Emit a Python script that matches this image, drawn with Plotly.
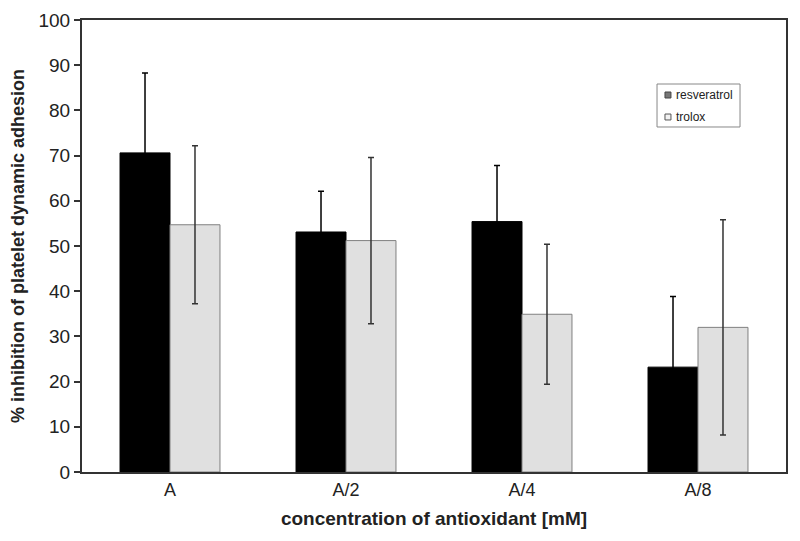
import plotly.graph_objects as go

categories = ["A", "A/2", "A/4", "A/8"]
resveratrol = [70.6, 53.1, 55.4, 23.2]
resveratrol_err = [17.7, 9.0, 12.4, 15.6]
trolox = [54.7, 51.2, 34.9, 32.0]
trolox_err = [17.5, 18.4, 15.5, 23.8]
series_names = ["resveratrol", "trolox"]

fig = go.Figure()
fig.add_trace(go.Bar(
    x=categories, y=resveratrol, name=series_names[0], showlegend=False,
    marker=dict(color="#000000", line=dict(color="#000000", width=1)),
    error_y=dict(type="data", array=resveratrol_err, visible=True,
                 color="#000000", thickness=1.5, width=3),
))
fig.add_trace(go.Bar(
    x=categories, y=trolox, name=series_names[1], showlegend=False,
    marker=dict(color="#e0e0e0", line=dict(color="#808080", width=1)),
    error_y=dict(type="data", array=trolox_err, visible=True,
                 color="#333333", thickness=1.5, width=3),
))

# custom legend box (paper coords)
shapes = [
    dict(type="rect", xref="paper", yref="paper", x0=0.8168, x1=0.9347,
         y0=0.7633, y1=0.8584, line=dict(color="#888888", width=1),
         fillcolor="white", layer="above"),
    dict(type="rect", xref="paper", yref="paper", x0=0.8281, x1=0.8366,
         y0=0.8274, y1=0.8407, line=dict(color="#444444", width=1),
         fillcolor="#777777", layer="above"),
    dict(type="rect", xref="paper", yref="paper", x0=0.8281, x1=0.8366,
         y0=0.7788, y1=0.7920, line=dict(color="#555555", width=1),
         fillcolor="#f2f2f2", layer="above"),
]
annotations = [
    dict(text=series_names[0], xref="paper", yref="paper", x=0.8410, y=0.8341,
         xanchor="left", yanchor="middle", showarrow=False,
         font=dict(size=12, color="#222222")),
    dict(text=series_names[1], xref="paper", yref="paper", x=0.8410, y=0.7854,
         xanchor="left", yanchor="middle", showarrow=False,
         font=dict(size=12, color="#222222")),
]

fig.update_layout(
    width=792, height=533,
    margin=dict(l=74, r=14, t=12, b=69),
    paper_bgcolor="white", plot_bgcolor="white",
    barmode="group", bargap=0.432, bargroupgap=0,
    font=dict(family="Liberation Sans, Arial, sans-serif", color="#222222"),
    showlegend=False,
    shapes=shapes, annotations=annotations,
    xaxis=dict(
        automargin=False,
        showline=True, linecolor="#333333", linewidth=2, mirror=True,
        ticks="", tickfont=dict(size=18),
        title=dict(text="<b>concentration of antioxidant [mM]</b>",
                   font=dict(size=19), standoff=13),
    ),
    yaxis=dict(
        automargin=False,
        range=[0, 100], dtick=10,
        showline=True, linecolor="#333333", linewidth=2, mirror=True,
        ticks="outside", ticklen=6, tickcolor="#333333", tickwidth=1.5,
        showgrid=False, zeroline=False, tickfont=dict(size=19),
        title=dict(text="<b>% inhibition of platelet dynamic adhesion</b>",
                   font=dict(size=18), standoff=9),
    ),
)

fig.write_html("out.html")
